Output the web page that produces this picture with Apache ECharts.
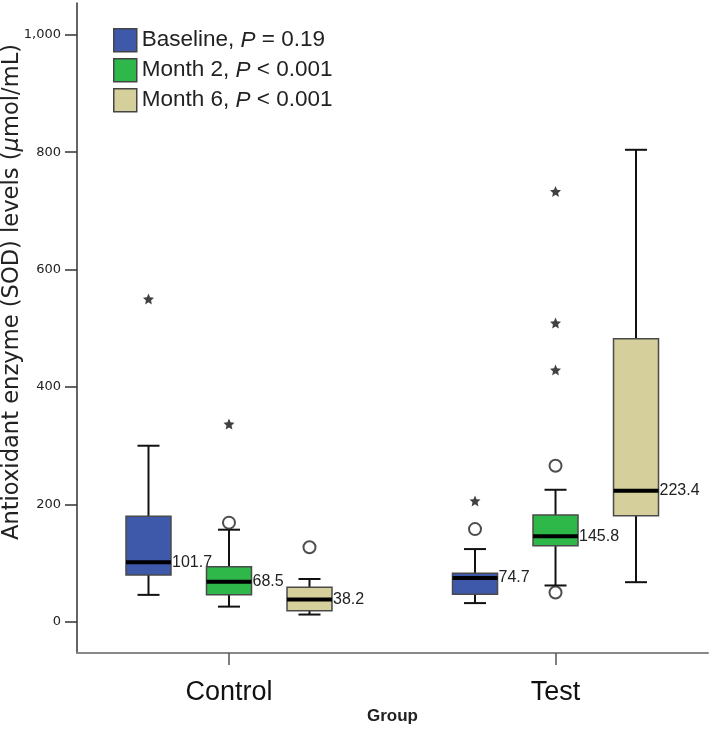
<!DOCTYPE html>
<html>
<head>
<meta charset="utf-8">
<script src="https://cdn.jsdelivr.net/npm/echarts@6/dist/echarts.min.js"></script>
<style>html,body{margin:0;padding:0;background:#fff;}#chart{width:709px;height:732px;}</style>
</head>
<body>
<div id="chart"></div>
<script>
// ---- data ----
const CATEGORIES = ['Control', 'Test'];
const SERIES_NAMES = ['Baseline', 'Month 2', 'Month 6'];
const P_LABELS = [' = 0.19', ' < 0.001', ' < 0.001'];
const Y_TICKS = [0, 200, 400, 600, 800, 1000];
// [lower whisker, Q1, median, Q3, upper whisker] per category
const BASELINE_BOX = [[46, 80, 101.7, 180, 300], [32, 47, 74.7, 83, 124]];
const MONTH2_BOX = [[26, 46, 68.5, 94, 157], [62, 129.5, 145.8, 182, 225]];
const MONTH6_BOX = [[12.5, 19, 38.2, 59, 73], [67.6, 180.6, 223.4, 482, 804]];
// outliers: [category index, value]
const BASELINE_CIRCLES = [[1, 158]];
const BASELINE_STARS = [[0, 550], [1, 206]];
const MONTH2_CIRCLES = [[0, 169], [1, 266], [1, 50]];
const MONTH2_STARS = [[0, 337], [1, 733], [1, 509], [1, 429]];
const MONTH6_CIRCLES = [[0, 127]];
const MONTH6_STARS = [];

// ---- style ----
const COLORS = ['#3f59aa', '#2fb84a', '#d5cf9b'];
const OFFSETS_PX = [-80.5, 0, 80.5];
const BOX_W = 45;
const CAP_W = 22;
const STAR = 'path://M50,0L63.52,31.39L97.55,34.55L71.87,57.11L79.39,90.45L50,73L20.61,90.45L28.13,57.11L2.45,34.55L36.48,31.39Z';

const BOXES = [BASELINE_BOX, MONTH2_BOX, MONTH6_BOX];
const CIRCLES = [BASELINE_CIRCLES, MONTH2_CIRCLES, MONTH6_CIRCLES];
const STARS = [BASELINE_STARS, MONTH2_STARS, MONTH6_STARS];

function makeRender(k) {
  return function (params, api) {
    const gi = api.value(0);
    const cx = api.coord([gi, 0])[0] + OFFSETS_PX[k];
    const y = v => api.coord([gi, v])[1];
    const lo = y(api.value(1)), q1 = y(api.value(2)), md = y(api.value(3)), q3 = y(api.value(4)), hi = y(api.value(5));
    const ls = { stroke: '#111', lineWidth: 2 };
    return {
      type: 'group',
      children: [
        { type: 'line', shape: { x1: cx, y1: q1, x2: cx, y2: lo }, style: ls },
        { type: 'line', shape: { x1: cx, y1: q3, x2: cx, y2: hi }, style: ls },
        { type: 'line', shape: { x1: cx - CAP_W / 2, y1: lo, x2: cx + CAP_W / 2, y2: lo }, style: ls },
        { type: 'line', shape: { x1: cx - CAP_W / 2, y1: hi, x2: cx + CAP_W / 2, y2: hi }, style: ls },
        { type: 'rect', shape: { x: cx - BOX_W / 2, y: q3, width: BOX_W, height: q1 - q3 },
          style: { fill: COLORS[k], stroke: '#4a4a4a', lineWidth: 1.5 } },
        { type: 'line', shape: { x1: cx - BOX_W / 2, y1: md, x2: cx + BOX_W / 2, y2: md },
          style: { stroke: '#000', lineWidth: 4 } },
        { type: 'text', x: cx + BOX_W / 2 + 1, y: md,
          style: { text: api.value(3).toFixed(1), fill: '#222', font: '16px "Liberation Sans", Arial, sans-serif',
                   verticalAlign: 'middle', align: 'left' } }
      ]
    };
  };
}

const series = [];
BOXES.forEach((box, k) => {
  series.push({
    type: 'custom',
    name: SERIES_NAMES[k],
    itemStyle: { color: COLORS[k], borderColor: '#4a4a4a', borderWidth: 1.5 },
    renderItem: makeRender(k),
    encode: { x: 0, y: [1, 2, 3, 4, 5] },
    data: box.map((d, i) => [i].concat(d)),
    z: 2
  });
});
CIRCLES.forEach((pts, k) => {
  series.push({
    type: 'scatter', name: SERIES_NAMES[k] + ' outliers',
    symbol: 'emptyCircle', symbolSize: 12, symbolOffset: [OFFSETS_PX[k], 0],
    itemStyle: { color: '#222', borderColor: '#222', borderWidth: 1.8 },
    data: pts, z: 3, silent: true
  });
});
STARS.forEach((pts, k) => {
  series.push({
    type: 'scatter', name: SERIES_NAMES[k] + ' extremes',
    symbol: STAR, symbolSize: 11, symbolOffset: [OFFSETS_PX[k], 0],
    itemStyle: { color: '#111' },
    data: pts, z: 3, silent: true
  });
});

const chart = echarts.init(document.getElementById('chart'), null, { renderer: 'canvas' });
chart.setOption({
  animation: false,
  backgroundColor: '#fff',
  grid: { left: 77, right: 1, top: 3, bottom: 79, containLabel: false, outerBoundsMode: 'none' },
  legend: {
    data: SERIES_NAMES,
    orient: 'vertical', left: 113, top: 28, padding: 0,
    itemWidth: 23, itemHeight: 23, itemGap: 5.5, icon: 'rect',
    itemStyle: { borderColor: '#444', borderWidth: 1.5 },
    formatter: name => {
      const k = SERIES_NAMES.indexOf(name);
      return '{n|' + name + ', }{i|P}{n|' + P_LABELS[k] + '}';
    },
    textStyle: {
      rich: {
        n: { fontFamily: '"Liberation Sans", Arial, sans-serif', fontSize: 22.5, color: '#222' },
        i: { fontFamily: '"Liberation Sans", Arial, sans-serif', fontSize: 22.5, fontStyle: 'italic', color: '#222' }
      }
    }
  },
  xAxis: {
    type: 'value', min: -0.4655, max: 1.467,
    name: 'Group', nameLocation: 'middle', nameGap: 55, nameMoveOverlap: false,
    nameTextStyle: { fontFamily: '"Liberation Sans", Arial, sans-serif', fontSize: 17, fontWeight: 'bold', color: '#222' },
    axisLine: { show: true, onZero: false, lineStyle: { color: '#888', width: 2 } },
    axisTick: { show: true, customValues: [0, 1], length: 12, lineStyle: { color: '#555', width: 1.5 } },
    axisLabel: { customValues: [0, 1], formatter: v => CATEGORIES[Math.round(v)], margin: 26,
      fontFamily: '"Liberation Sans", Arial, sans-serif', fontSize: 27, color: '#111' },
    splitLine: { show: false }
  },
  yAxis: {
    type: 'value', min: -53, max: 1054,
    name: '{a|Antioxidant enzyme (SOD) levels (}{i|μ}{a|mol/mL)}',
    nameLocation: 'middle', nameGap: 53, nameRotate: 90, nameMoveOverlap: false,
    nameTextStyle: {
      padding: [0, 0, 0, 72],
      rich: {
        a: { fontFamily: '"DejaVu Sans", sans-serif', fontSize: 22.6, color: '#222' },
        i: { fontFamily: '"DejaVu Sans", sans-serif', fontSize: 22.6, fontStyle: 'italic', color: '#222' }
      }
    },
    axisLine: { show: true, onZero: false, lineStyle: { color: '#333', width: 1.5 } },
    axisTick: { show: true, customValues: Y_TICKS, length: 12, lineStyle: { color: '#333', width: 1.5 } },
    axisLabel: { customValues: Y_TICKS, margin: 16, formatter: v => v.toLocaleString('en-US'),
      fontFamily: '"DejaVu Sans", sans-serif', fontSize: 13, color: '#222' },
    splitLine: { show: false }
  },
  series: series
});
</script>
</body>
</html>
